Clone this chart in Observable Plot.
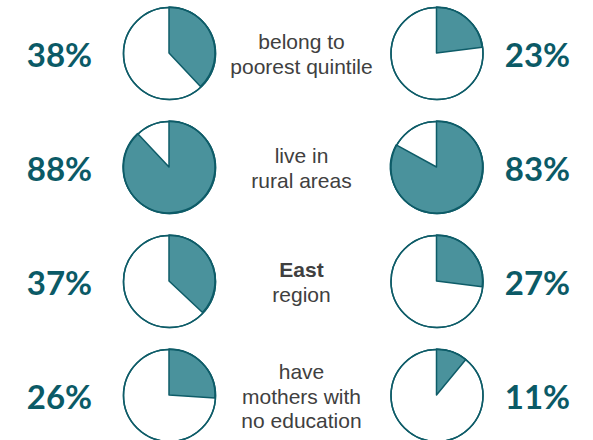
<!DOCTYPE html>
<html><head><meta charset="utf-8">
<script src="https://cdn.jsdelivr.net/npm/d3@7"></script>
<script src="https://cdn.jsdelivr.net/npm/@observablehq/plot@0.6"></script>
<style>body{margin:0;background:#fff}</style>
</head><body><div id="chart"></div>
<script>
// ---- data ----
const categories = ["quintile", "rural", "east", "mothers"];
const labels = ["belong to\npoorest quintile", "live in\nrural areas", "East\nregion", "have\nmothers with\nno education"];
const boldLines = ["East"];
const leftValues = [38, 88, 37, 26];
const rightValues = [23, 83, 27, 11];

// ---- layout / style ----
const W = 593, H = 440;
const layout = {
  left: {pie: 169, pct: 59},
  right: {pie: 436.5, pct: 537},
  label: 301,
  r: 46
};
const colors = {fill: "#4a929c", stroke: "#0e5c68", pct: "#0b5a66", text: "#404040"};

const pies = categories.flatMap((cat, i) => [
  {cat, side: "left", value: leftValues[i]},
  {cat, side: "right", value: rightValues[i]}
]);

function sliceMark(data) {
  return (index, scales) => {
    const g = d3.create("svg:g");
    const arc = d3.arc().innerRadius(0).outerRadius(layout.r);
    for (const d of data) {
      g.append("path")
        .attr("transform", `translate(${scales.x(layout[d.side].pie)},${scales.y(d.cat)})`)
        .attr("d", arc({startAngle: 0, endAngle: 2 * Math.PI * d.value / 100}))
        .attr("fill", colors.fill)
        .attr("stroke", colors.stroke)
        .attr("stroke-width", 1.5)
        .attr("stroke-linejoin", "round");
    }
    return g.node();
  };
}

const chart = Plot.plot({
  width: W,
  height: H,
  marginLeft: 0, marginRight: 0, marginTop: 53, marginBottom: 45,
  x: {domain: [0, W], axis: null},
  y: {type: "point", domain: categories, padding: 0, axis: null},
  marks: [
    Plot.dot(pies, {x: d => layout[d.side].pie, y: "cat", r: layout.r, fill: "white", stroke: colors.stroke, strokeWidth: 1.5}),
    sliceMark(pies),
    Plot.dot(pies, {x: d => layout[d.side].pie, y: "cat", r: layout.r, fill: "none", stroke: colors.stroke, strokeWidth: 1.5}),
    Plot.text(pies, {x: d => layout[d.side].pct, y: "cat", text: d => d.value + "%", fontSize: 33, fontWeight: "bold", fontFamily: "Lato, sans-serif", fill: colors.pct, dy: 3}),
    Plot.text(categories, {x: () => layout.label, y: d => d, text: (d, i) => labels[i], fontSize: 21, fontFamily: "Liberation Sans, Arial, sans-serif", fill: colors.text, lineHeight: 1.19})
  ]
});

d3.select(chart).selectAll("tspan")
  .filter(function () { return boldLines.includes(this.textContent); })
  .attr("font-weight", "bold");

document.getElementById("chart").appendChild(chart);
</script>
</body></html>
